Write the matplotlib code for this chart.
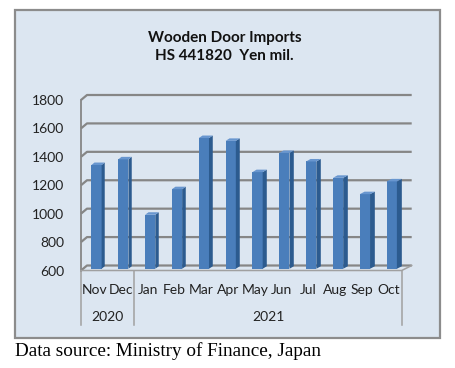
import matplotlib
matplotlib.use("Agg")
import matplotlib.pyplot as plt
from matplotlib.patches import Rectangle

# ---- data ----
months = ["Nov", "Dec", "Jan", "Feb", "Mar", "Apr", "May", "Jun", "Jul", "Aug", "Sep", "Oct"]
values = [1330, 1370, 980, 1160, 1520, 1500, 1280, 1415, 1355, 1240, 1125, 1215]
years = ["2020", "2021"]
year_spans = [(0, 1), (2, 11)]
yticks = [600, 800, 1000, 1200, 1400, 1600, 1800]
title = "Wooden Door Imports\nHS 441820  Yen mil."
caption = "Data source: Ministry of Finance, Japan"

W, H, DPI = 455, 368, 100
fig = plt.figure(figsize=(W / DPI, H / DPI), dpi=DPI)
fig.patch.set_facecolor("white")

FONT = "Lato"
BG = "#dce6f1"

# chart box
box = Rectangle((15 / W, 1 - 338 / H), 425 / W, 328 / H, transform=fig.transFigure,
                facecolor=BG, edgecolor="#8c8c8c", linewidth=1.6, zorder=-10)
fig.patches.append(box)

# front plane of plot area in pixels: x 81..401.7, y(600)=270.5, y(1800)=100
left_px, right_px, bot_px, top_px = 81, 401.7, 270.5, 100
ax = fig.add_axes([left_px / W, 1 - bot_px / H, (right_px - left_px) / W, (bot_px - top_px) / H])
ax.set_zorder(1)
ax.patch.set_visible(False)
n = len(months)
ax.set_xlim(-0.5, n - 0.5)
ax.set_ylim(yticks[0], yticks[-1])
for s in ax.spines.values():
    s.set_visible(False)

px_per_cat = (right_px - left_px) / n
px_per_val = (bot_px - top_px) / (yticks[-1] - yticks[0])
DX0, DX1, DY = 6.0 / px_per_cat, 10.0 / px_per_cat, 5.0 / px_per_val
xmin, xmax = -0.5, n - 0.5


def proj(x, v, t):
    dx = DX0 + (DX1 - DX0) * (x - xmin) / (xmax - xmin)
    return x + t * dx, v + t * DY


GRID = "#868686"
# gridlines: left wall diagonal + back wall
for v in yticks:
    p0 = proj(xmin, v, 0)
    p1 = proj(xmin, v, 1)
    p2 = proj(xmax, v, 1)
    ax.plot([p0[0], p1[0], p2[0]], [p0[1], p1[1], p2[1]], color=GRID, lw=1.6,
            clip_on=False, zorder=1, solid_capstyle="butt")
# left wall front edge and floor front/right edges
a = proj(xmin, yticks[0], 0); b = proj(xmin, yticks[-1], 0)
ax.plot([a[0], b[0]], [a[1], b[1]], color=GRID, lw=1.3, clip_on=False, zorder=1)
c = proj(xmax, yticks[0], 0); d = proj(xmax, yticks[0], 1)
ax.plot([a[0], c[0], d[0]], [a[1], c[1], d[1]], color="#a0a0a0", lw=1.1, clip_on=False, zorder=1)

# bars
BW = 0.38
TF, TB = 0.35, 0.85
FRONT, SIDE, TOP = "#4a7ebb", "#2c5b8f", "#6896cf"
xs = list(range(n))
fx = [proj(i - BW / 2, 0, TF)[0] + BW / 2 for i in xs]
base = yticks[0] + TF * DY
ax.bar(fx, [v - yticks[0] for v in values], width=BW, bottom=base, color=FRONT,
       edgecolor="none", zorder=3, clip_on=False)
for i, v in zip(xs, values):
    x0, x1 = i - BW / 2, i + BW / 2
    # side
    pts = [proj(x1, yticks[0], TF), proj(x1, yticks[0], TB), proj(x1, v, TB), proj(x1, v, TF)]
    ax.fill([p[0] for p in pts], [p[1] for p in pts], color=SIDE, lw=0, zorder=3, clip_on=False)
    # top
    pts = [proj(x0, v, TF), proj(x1, v, TF), proj(x1, v, TB), proj(x0, v, TB)]
    ax.fill([p[0] for p in pts], [p[1] for p in pts], color=TOP, lw=0, zorder=3, clip_on=False)

# ticks
ax.set_yticks(yticks)
ax.set_yticklabels([str(t) for t in yticks], fontsize=10, family=FONT, color="#222222")
ax.tick_params(axis="y", length=0, pad=12)
ax.set_xticks(xs)
ax.set_xticklabels(months, fontsize=10, family=FONT, color="#222222")
ax.tick_params(axis="x", length=0, pad=10)

# year row
tr = ax.get_xaxis_transform()
for lab, (s, e) in zip(years, year_spans):
    ax.text((s + e) / 2, -0.275, lab, transform=tr, ha="center", va="center",
            fontsize=10, family=FONT, color="#222222")
for xb in [xmin, 1.5, xmax]:
    ax.plot([xb, xb], [0, -0.32], transform=tr, color="#a0a0a0", lw=1.1, clip_on=False)

# title
fig.text(224.5 / W, 1 - 47 / H, title, ha="center", va="center", fontsize=11,
         fontweight="bold", family=FONT, color="#111111", linespacing=1.4)

# caption
fig.text(15 / W, 1 - 351 / H, caption, ha="left", va="center", fontsize=13.8,
         family="Liberation Serif", color="black")

fig.savefig("out.png", dpi=DPI)
